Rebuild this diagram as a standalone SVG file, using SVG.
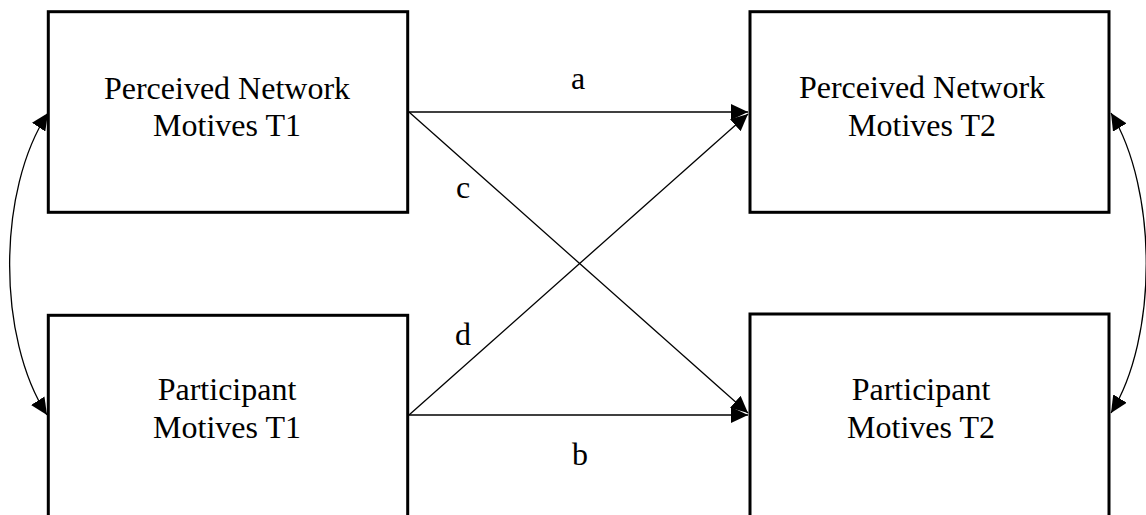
<svg xmlns="http://www.w3.org/2000/svg" width="1146" height="515" viewBox="0 0 1146 515">
<style>
.box{fill:#fff;stroke:#000;stroke-width:3}
.lbl{font-family:"Liberation Serif","Times New Roman",serif;font-size:32px;fill:#000;text-anchor:middle}
.con{fill:none;stroke:#000;stroke-width:1.3}
</style>
<defs>
<marker id="ah" markerUnits="userSpaceOnUse" markerWidth="17" markerHeight="16" viewBox="0 0 17 16" refX="17" refY="8" orient="auto-start-reverse">
<path d="M0,0 L17,8 L0,16 Z" fill="#000"/>
</marker>
</defs>
<rect width="1146" height="515" fill="#fff"/>
<g id="node-pn-t1">
<rect class="box" x="48.3" y="11.7" width="359.4" height="200.6"/>
<text class="lbl" x="227" y="99">Perceived Network</text>
<text class="lbl" x="227" y="136">Motives T1</text>
</g>
<g id="node-pn-t2">
<rect class="box" x="750" y="11.7" width="359" height="200.6"/>
<text class="lbl" x="922" y="98">Perceived Network</text>
<text class="lbl" x="922" y="136">Motives T2</text>
</g>
<g id="node-pm-t1">
<rect class="box" x="48.3" y="315.3" width="359.4" height="210"/>
<text class="lbl" x="227" y="400">Participant</text>
<text class="lbl" x="227" y="438">Motives T1</text>
</g>
<g id="node-pm-t2">
<rect class="box" x="750" y="314" width="359" height="210"/>
<text class="lbl" x="921" y="400">Participant</text>
<text class="lbl" x="921" y="438">Motives T2</text>
</g>
<g id="connectors">
<path class="con" d="M409,112 L748,112" marker-end="url(#ah)"/>
<path class="con" d="M409,415 L748,415" marker-end="url(#ah)"/>
<path class="con" d="M409,112 L748,413" marker-end="url(#ah)"/>
<path class="con" d="M409,415 L748,114" marker-end="url(#ah)"/>
<path class="con" d="M48,113 C -3,190 -3,338 47,415" marker-start="url(#ah)" marker-end="url(#ah)"/>
<path class="con" d="M1111,113 C 1158,190 1158,338 1111,413" marker-start="url(#ah)" marker-end="url(#ah)"/>
</g>
<g id="labels">
<text class="lbl" x="578" y="89">a</text>
<text class="lbl" x="580" y="465">b</text>
<text class="lbl" x="463" y="198">c</text>
<text class="lbl" x="463" y="345">d</text>
</g>
</svg>
